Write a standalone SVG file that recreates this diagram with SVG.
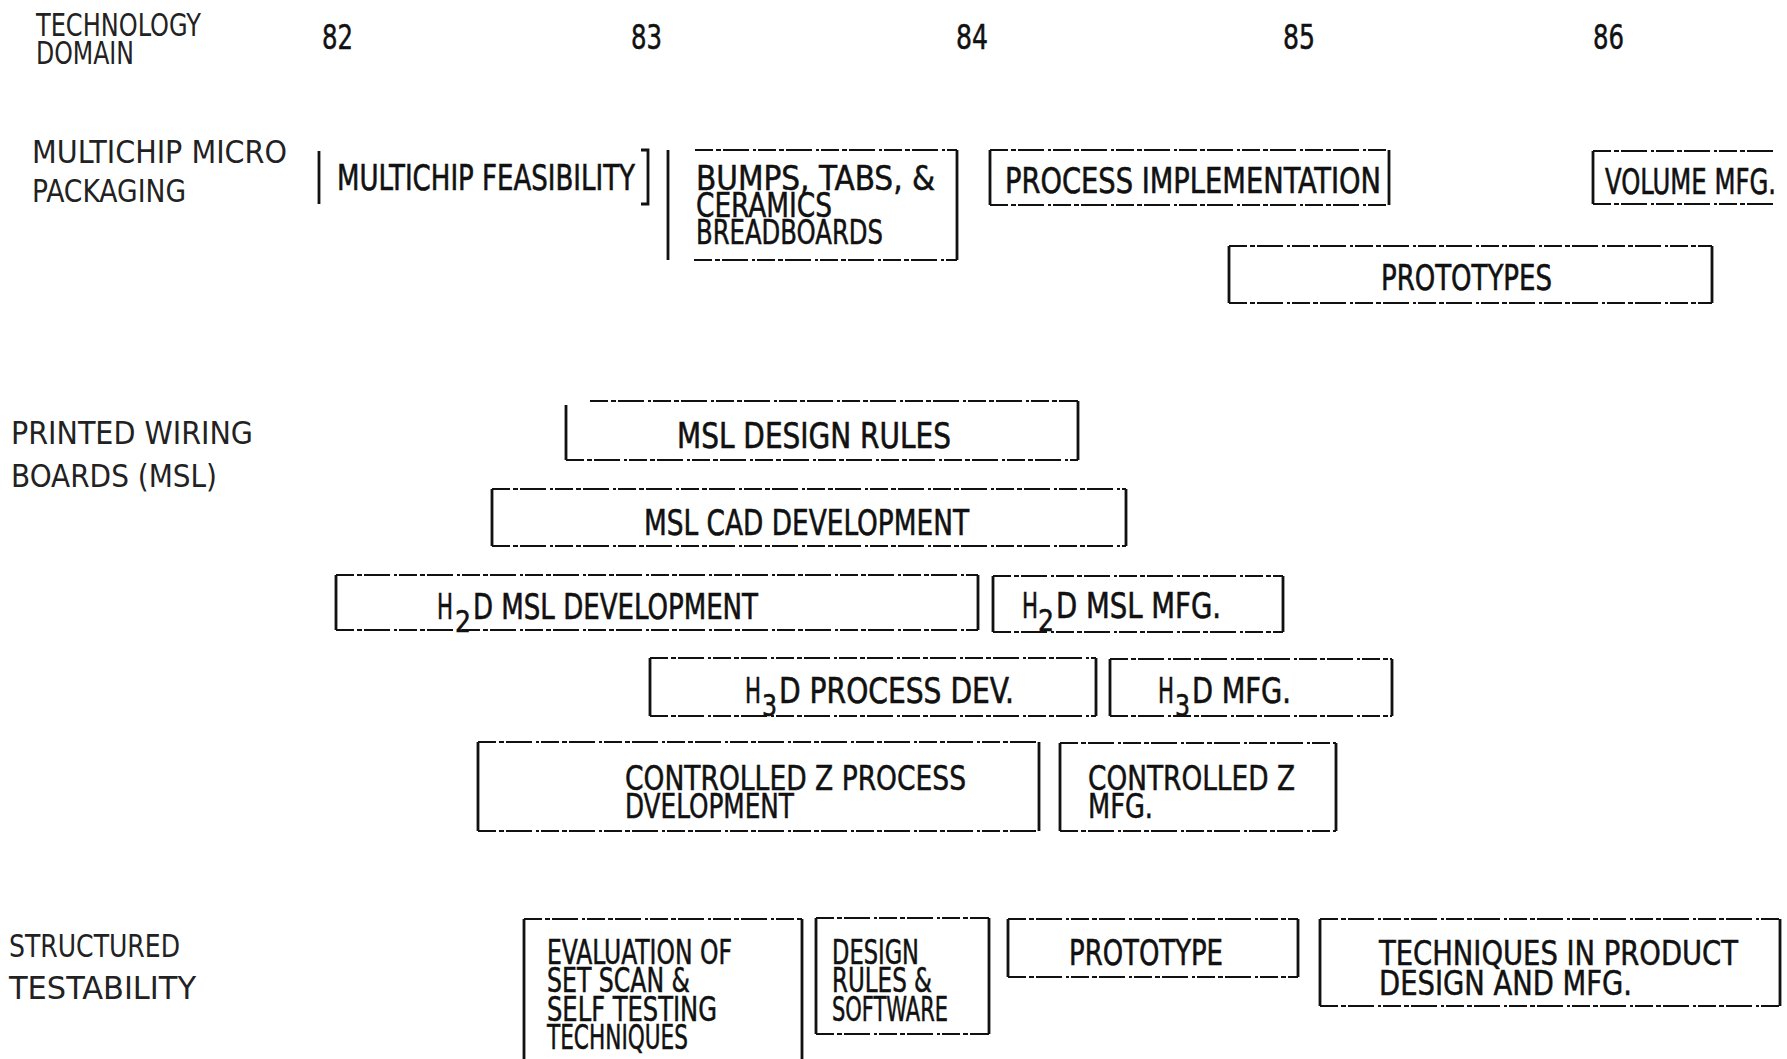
<svg xmlns="http://www.w3.org/2000/svg" width="1787" height="1059" viewBox="0 0 1787 1059">
<style>
text{font-family:"DejaVu Sans Condensed","DejaVu Sans",sans-serif;fill:#111;}
.t{font-size:36px;stroke:#111;stroke-width:0.6;}
.m{font-size:33px;stroke:#111;stroke-width:0.5;}
.s{font-size:31px;stroke:#111;stroke-width:0.6;}
.lab{font-size:32px;fill:#222;}
.yr{font-size:34px;stroke:#111;stroke-width:0.5;}
.v{stroke:#111;stroke-width:2.8;fill:none;}
.h{stroke:#111;stroke-width:2.2;fill:none;stroke-dasharray:18 3 5 2 26 4 3 2;}
</style>
<rect width="1787" height="1059" fill="#fff"/>

<g id="header">
<text class="lab" x="36" y="36" textLength="165" lengthAdjust="spacingAndGlyphs">TECHNOLOGY</text>
<text class="lab" x="36" y="64" textLength="98" lengthAdjust="spacingAndGlyphs">DOMAIN</text>
<text class="yr" x="322" y="49" textLength="31" lengthAdjust="spacingAndGlyphs">82</text>
<text class="yr" x="631" y="49" textLength="31" lengthAdjust="spacingAndGlyphs">83</text>
<text class="yr" x="956" y="49" textLength="32" lengthAdjust="spacingAndGlyphs">84</text>
<text class="yr" x="1283" y="49" textLength="32" lengthAdjust="spacingAndGlyphs">85</text>
<text class="yr" x="1593" y="49" textLength="31" lengthAdjust="spacingAndGlyphs">86</text>
</g>

<g id="row-labels">
<text class="lab" x="32" y="163" textLength="255" lengthAdjust="spacingAndGlyphs">MULTICHIP MICRO</text>
<text class="lab" x="32" y="202" textLength="154" lengthAdjust="spacingAndGlyphs">PACKAGING</text>
<text class="lab" x="11" y="444" textLength="242" lengthAdjust="spacingAndGlyphs">PRINTED WIRING</text>
<text class="lab" x="11" y="487" textLength="206" lengthAdjust="spacingAndGlyphs">BOARDS (MSL)</text>
<text class="lab" x="9" y="957" textLength="171" lengthAdjust="spacingAndGlyphs">STRUCTURED</text>
<text class="lab" x="9" y="999" textLength="187" lengthAdjust="spacingAndGlyphs">TESTABILITY</text>
</g>

<g id="multichip-feasibility">
<path class="v" d="M319 151V204M641 150H648V204H641"/>
<text class="t" x="337" y="190" textLength="298" lengthAdjust="spacingAndGlyphs">MULTICHIP FEASIBILITY</text>
</g>

<g id="bumps-tabs-ceramics">
<path class="v" d="M668 150V260M957 150V260"/>
<path class="h" d="M695 150H957M694 260H957"/>
<text class="m" x="696" y="190" textLength="239" lengthAdjust="spacingAndGlyphs">BUMPS, TABS, &amp;</text>
<text class="m" x="696" y="217" textLength="136" lengthAdjust="spacingAndGlyphs">CERAMICS</text>
<text class="m" x="696" y="244" textLength="187" lengthAdjust="spacingAndGlyphs">BREADBOARDS</text>
</g>

<g id="process-implementation">
<path class="v" d="M990 150V205M1389 150V205"/>
<path class="h" d="M990 150H1389M990 205H1389"/>
<text class="t" x="1005" y="193" textLength="376" lengthAdjust="spacingAndGlyphs">PROCESS IMPLEMENTATION</text>
</g>

<g id="volume-mfg">
<path class="v" d="M1593 151V204"/>
<path class="h" d="M1593 151H1775M1593 204H1775"/>
<text class="t" x="1605" y="194" textLength="171" lengthAdjust="spacingAndGlyphs">VOLUME MFG.</text>
</g>

<g id="prototypes">
<path class="v" d="M1229 246V303M1712 246V303"/>
<path class="h" d="M1229 246H1712M1229 303H1712"/>
<text class="t" x="1381" y="290" textLength="171" lengthAdjust="spacingAndGlyphs">PROTOTYPES</text>
</g>

<g id="msl-design-rules">
<path class="v" d="M566 405V460M1078 401V460"/>
<path class="h" d="M590 401H1078M566 460H1078"/>
<text class="t" x="677" y="448" textLength="274" lengthAdjust="spacingAndGlyphs">MSL DESIGN RULES</text>
</g>

<g id="msl-cad-development">
<path class="v" d="M492 489V546M1126 489V546"/>
<path class="h" d="M492 489H1126M492 546H1126"/>
<text class="t" x="644" y="535" textLength="325" lengthAdjust="spacingAndGlyphs">MSL CAD DEVELOPMENT</text>
</g>

<g id="h2d-msl-development">
<path class="v" d="M336 575V630M978 575V630"/>
<path class="h" d="M336 575H978M336 630H978"/>
<text class="t" x="437" y="619" textLength="16" lengthAdjust="spacingAndGlyphs">H</text>
<text class="s" x="455" y="632" textLength="16" lengthAdjust="spacingAndGlyphs">2</text>
<text class="t" x="473" y="619" textLength="285" lengthAdjust="spacingAndGlyphs">D MSL DEVELOPMENT</text>
</g>

<g id="h2d-msl-mfg">
<path class="v" d="M993 576V632M1283 576V632"/>
<path class="h" d="M993 576H1283M993 632H1283"/>
<text class="t" x="1022" y="618" textLength="16" lengthAdjust="spacingAndGlyphs">H</text>
<text class="s" x="1038" y="631" textLength="16" lengthAdjust="spacingAndGlyphs">2</text>
<text class="t" x="1056" y="618" textLength="165" lengthAdjust="spacingAndGlyphs">D MSL MFG.</text>
</g>

<g id="h3d-process-dev">
<path class="v" d="M650 658V716M1096 658V716"/>
<path class="h" d="M650 658H1096M650 716H1096"/>
<text class="t" x="745" y="703" textLength="16" lengthAdjust="spacingAndGlyphs">H</text>
<text class="s" x="762" y="716" textLength="15" lengthAdjust="spacingAndGlyphs">3</text>
<text class="t" x="779" y="703" textLength="235" lengthAdjust="spacingAndGlyphs">D PROCESS DEV.</text>
</g>

<g id="h3d-mfg">
<path class="v" d="M1110 659V716M1392 659V716"/>
<path class="h" d="M1110 659H1392M1110 716H1392"/>
<text class="t" x="1158" y="703" textLength="16" lengthAdjust="spacingAndGlyphs">H</text>
<text class="s" x="1175" y="716" textLength="15" lengthAdjust="spacingAndGlyphs">3</text>
<text class="t" x="1192" y="703" textLength="99" lengthAdjust="spacingAndGlyphs">D MFG.</text>
</g>

<g id="controlled-z-process">
<path class="v" d="M478 742V831M1039 742V831"/>
<path class="h" d="M478 742H1039M478 831H1039"/>
<text class="m" x="625" y="790" textLength="341" lengthAdjust="spacingAndGlyphs">CONTROLLED Z PROCESS</text>
<text class="m" x="625" y="818" textLength="169" lengthAdjust="spacingAndGlyphs">DVELOPMENT</text>
</g>

<g id="controlled-z-mfg">
<path class="v" d="M1060 743V831M1336 743V831"/>
<path class="h" d="M1060 743H1336M1060 831H1336"/>
<text class="m" x="1088" y="790" textLength="207" lengthAdjust="spacingAndGlyphs">CONTROLLED Z</text>
<text class="m" x="1088" y="818" textLength="65" lengthAdjust="spacingAndGlyphs">MFG.</text>
</g>

<g id="evaluation">
<path class="v" d="M524 919V1059M802 919V1059"/>
<path class="h" d="M524 919H802"/>
<text class="m" x="547" y="964" textLength="185" lengthAdjust="spacingAndGlyphs">EVALUATION OF</text>
<text class="m" x="547" y="992" textLength="143" lengthAdjust="spacingAndGlyphs">SET SCAN &amp;</text>
<text class="m" x="547" y="1021" textLength="170" lengthAdjust="spacingAndGlyphs">SELF TESTING</text>
<text class="m" x="547" y="1049" textLength="141" lengthAdjust="spacingAndGlyphs">TECHNIQUES</text>
</g>

<g id="design-rules-software">
<path class="v" d="M816 918V1034M989 918V1034"/>
<path class="h" d="M816 918H989M816 1034H989"/>
<text class="m" x="832" y="964" textLength="87" lengthAdjust="spacingAndGlyphs">DESIGN</text>
<text class="m" x="832" y="992" textLength="100" lengthAdjust="spacingAndGlyphs">RULES &amp;</text>
<text class="m" x="832" y="1021" textLength="116" lengthAdjust="spacingAndGlyphs">SOFTWARE</text>
</g>

<g id="prototype">
<path class="v" d="M1008 919V977M1298 919V977"/>
<path class="h" d="M1008 919H1298M1008 977H1298"/>
<text class="t" x="1069" y="965" textLength="154" lengthAdjust="spacingAndGlyphs">PROTOTYPE</text>
</g>

<g id="techniques-product">
<path class="v" d="M1320 919V1006M1780 919V1006"/>
<path class="h" d="M1320 919H1780M1320 1006H1780"/>
<text class="m" x="1379" y="965" textLength="359" lengthAdjust="spacingAndGlyphs">TECHNIQUES IN PRODUCT</text>
<text class="m" x="1379" y="995" textLength="253" lengthAdjust="spacingAndGlyphs">DESIGN AND MFG.</text>
</g>
</svg>
